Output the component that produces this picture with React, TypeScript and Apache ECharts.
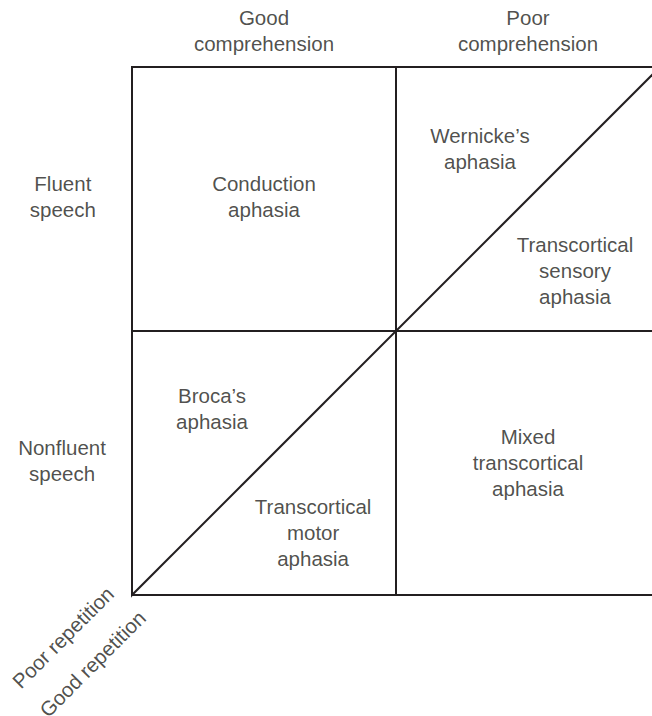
import React, { useEffect, useRef } from "react";
import * as echarts from "echarts";

// Label texts and their centres, in grid units (0..2 on both axes)
const headerLabels = ["Good\ncomprehension", "Poor\ncomprehension"];
const headerPos = [[0.5, 2.14], [1.5, 2.14]];

const sideLabels = ["Fluent\nspeech", "Nonfluent\nspeech"];
const sidePos = [[-0.262, 1.51], [-0.265, 0.51]];

const cellLabels = [
  "Conduction\naphasia",
  "Wernicke\u2019s\naphasia",
  "Transcortical\nsensory\naphasia",
  "Broca\u2019s\naphasia",
  "Transcortical\nmotor\naphasia",
  "Mixed\ntranscortical\naphasia",
];
const cellPos = [
  [0.5, 1.51],
  [1.318, 1.691],
  [1.678, 1.231],
  [0.303, 0.706],
  [0.686, 0.235],
  [1.5, 0.502],
];

const repetitionLabels = ["Poor repetition", "Good repetition"];
const repetitionPos = [[-0.262, -0.16], [-0.15, -0.26]];

// Line segments (grid units)
const boxLine = [[2, 0], [0, 0], [0, 2], [2, 2], [2, 0]];
const midVertical = [[1, 0], [1, 2]];
const midHorizontal = [[0, 1], [2, 1]];
const diagonal = [[-0.443, -0.443], [2, 2]];

const INK = "#231f20";
const FONT = "Liberation Sans, Arial, Helvetica, sans-serif";

export default function App() {
  const ref = useRef<HTMLDivElement>(null);

  useEffect(() => {
    if (!ref.current) return;
    const chart = echarts.init(ref.current, undefined, { renderer: "svg" });

    const lineSeries = (data: number[][]) => ({
      type: "line",
      data,
      symbol: "none",
      clip: false,
      silent: true,
      lineStyle: { color: INK, width: 2, join: "miter", cap: "butt" },
    });

    const textSeries = (texts: string[], pos: number[][], rotate = 0) => ({
      type: "scatter",
      symbolSize: 0,
      clip: false,
      silent: true,
      data: texts.map((t, i) => ({ value: pos[i], name: t })),
      label: {
        show: true,
        position: "inside",
        formatter: (p: any) => p.name,
        color: INK,
        fontSize: 20.5,
        fontFamily: FONT,
        lineHeight: 26,
        align: "center",
        verticalAlign: "middle",
        rotate,
      },
    });

    chart.setOption({
      animation: false,
      backgroundColor: "#ffffff",
      grid: {
        left: 132,
        top: 67,
        width: 528,
        height: 528,
        outerBoundsMode: "none",
        containLabel: false,
      },
      xAxis: {
        type: "value",
        min: 0,
        max: 2,
        show: false,
      },
      yAxis: {
        type: "value",
        min: 0,
        max: 2,
        show: false,
      },
      series: [
        lineSeries(boxLine),
        lineSeries(midVertical),
        lineSeries(midHorizontal),
        lineSeries(diagonal),
        textSeries(headerLabels, headerPos),
        textSeries(sideLabels, sidePos),
        textSeries(cellLabels, cellPos),
        textSeries(repetitionLabels, repetitionPos, 45),
      ],
    });

    return () => chart.dispose();
  }, []);

  return (
    <div
      ref={ref}
      style={{ position: "fixed", left: 0, top: 0, width: 652, height: 716 }}
    />
  );
}
